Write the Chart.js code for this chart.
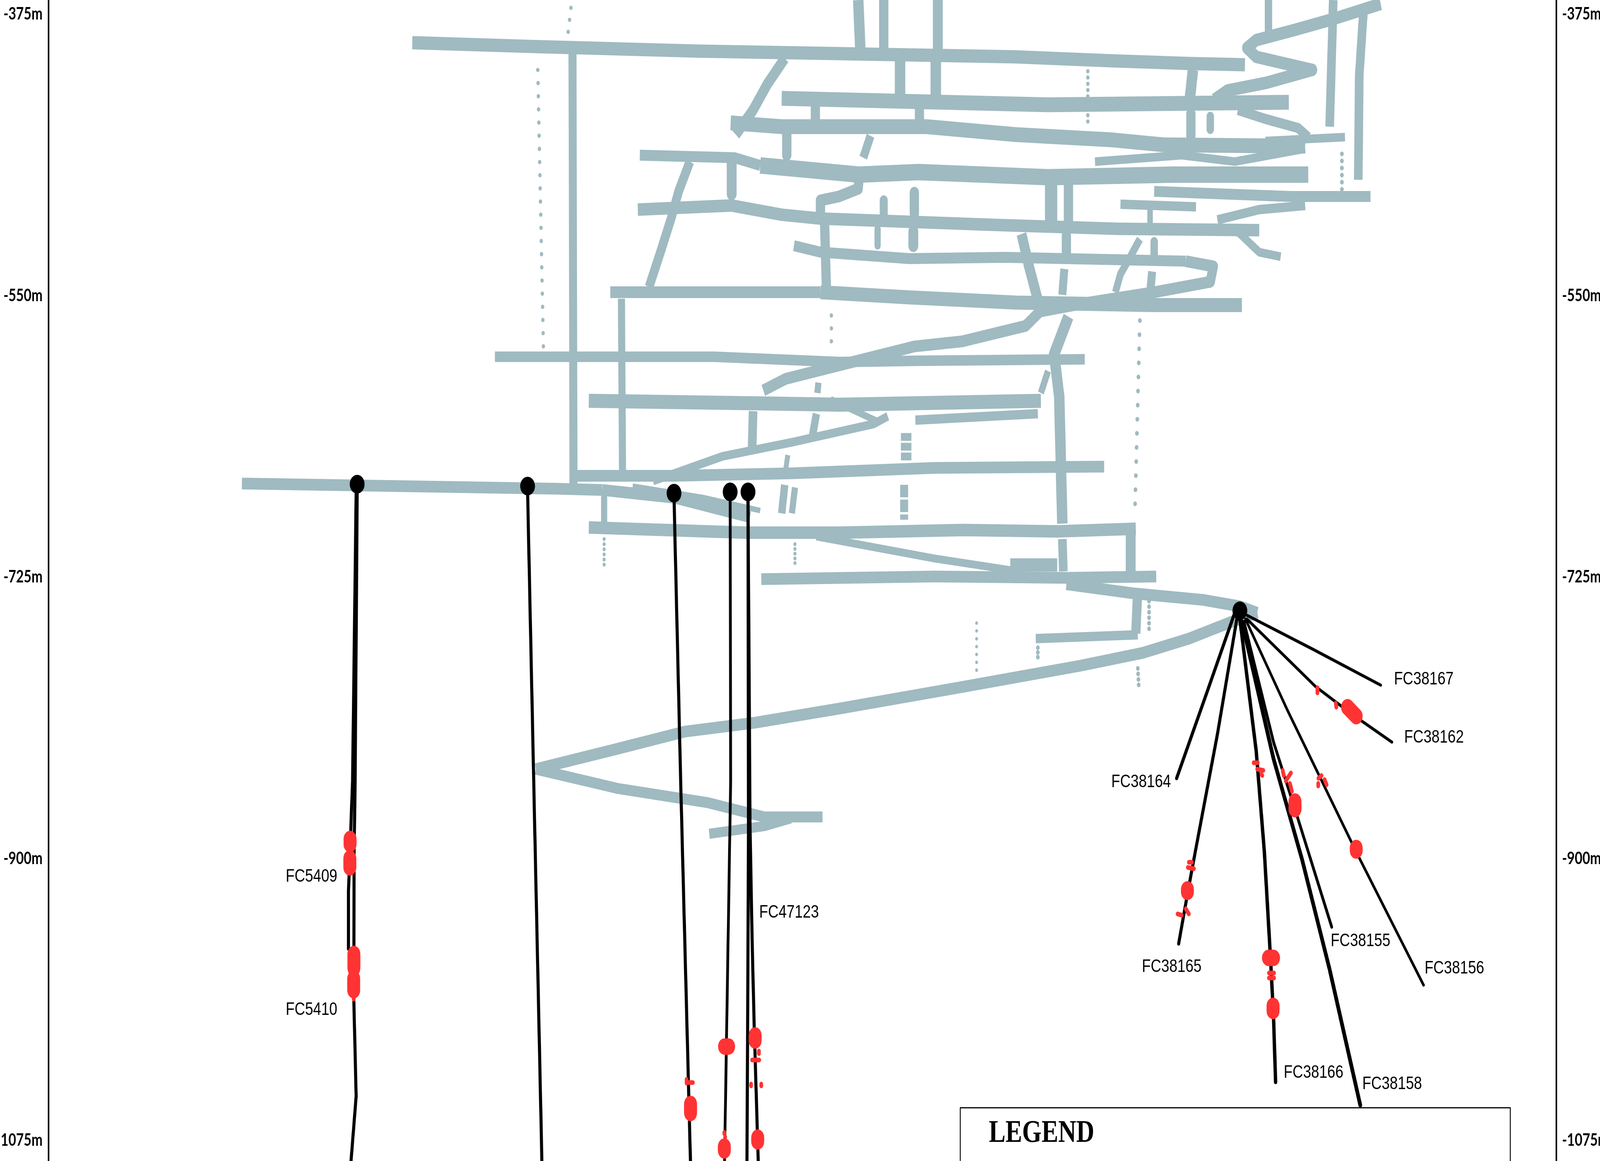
<!DOCTYPE html>
<html lang="en">
<head>
    <meta charset="UTF-8">
    <title>Long section</title>
    <style>
        html, body { margin: 0; padding: 0; background: #fff; overflow: hidden; }
        /* drawing surface stays 5188x2972, fit it to whatever window we really get */
        canvas { display: block; width: 100vw !important; height: 100vh !important; }
    </style>
    <script src="https://cdn.jsdelivr.net/npm/chart.js"></script>
</head>
<body>
    <canvas id="section" width="5188" height="2972"></canvas>
    <script>
        // depth axis
        const depthTicks = [-375, -550, -725, -900, -1075];

        // mine levels: [chainage, depth m]
        const level393 = [[404,-392.8],[525,-395.2],[683,-398],[822,-399.6],[995,-401.6],[1088,-404],[1165,-405.7],[1220,-406.5]];
        const ramp380 = [[1353,-368.7],[1307,-378],[1269,-384.8],[1231,-391.2],[1222,-396],[1231,-401.6],[1286,-409.7],[1241,-417.7],[1203,-422.5],[1190,-428.2]];
        const level428 = [[766,-427.4],[1027,-431.4],[1263,-429.8]];
        const ramp440 = [[1213,-434.6],[1240,-440.2],[1272,-445.8],[1282,-451.5]];
        const level450 = [[716,-442.6],[766,-445],[908,-445],[995,-449.9],[1088,-453.1],[1141,-456.3],[1279,-457.1]];
        const level452East = [[1240,-453.9],[1318,-451.5]];
        const level465West = [[627,-462.7],[720,-464.3],[745,-469.1]];
        const level465East = [[745,-469.1],[842,-474.8],[900,-473.2],[1027,-476.4],[1150,-474.8],[1282,-474.8]];
        const strand466 = [[1073,-466.7],[1158,-462.7],[1210,-466.7],[1279,-458.7]];
        const level495 = [[625,-496.5],[717,-494],[766,-499.7],[804,-502.1],[978,-506.1],[1096,-508.5],[1234,-509.3]];
        const strand493 = [[1098,-493.2],[1172,-494.8]];
        const level487 = [[1131,-485.2],[1265,-488.4],[1343,-488.4]];
        const ramp496 = [[1193,-502.9],[1234,-496.5],[1279,-494]];
        const level527 = [[778,-519],[804,-523],[891,-527],[985,-526.2],[1162,-528.6]];
        const ramp560 = [[1162,-528.6],[1189,-531.8],[1186,-541.4],[1131,-547.9],[1060,-555],[1019,-559.9],[1005,-568.8],[943,-578.4],[896,-581.6],[820,-593.7],[770,-601.7],[748,-608.9]];
        const ramp520 = [[1205,-509.3],[1214,-510.9],[1234,-523],[1255,-525.8]];
        const level555West = [[598,-547.9],[645,-547.9],[804,-547.9]];
        const level555East = [[804,-547.9],[891,-551.1],[995,-554.3],[1131,-555.9],[1217,-555.9]];
        const level590 = [[485,-588],[700,-588],[823,-591.3],[900,-590.5],[1063,-589.6]];
        const level616 = [[577,-615.4],[749,-617],[823,-617.8],[1020,-615.4]];
        const strand620 = [[814,-614.6],[860,-628.2]];
        const strand625 = [[897,-627.4],[1017,-623.4]];
        const ramp640 = [[870,-625],[856,-629.8],[777,-641],[708,-649.9],[640,-665.2]];
        const level660 = [[564,-662],[661,-662],[777,-660.4],[916,-657.1],[1082,-656.3]];
        const level668 = [[237,-666.8],[544,-670],[590,-670.8]];
        const ramp680 = [[590,-670.8],[661,-675.6],[735,-687.7]];
        const strand675 = [[620,-668.4],[690,-675.6],[745,-683.6]];
        const level696 = [[577,-694.1],[731,-697.3],[823,-697.3],[944,-695.7],[1036,-696.5],[1113,-694.9]];
        const ramp710 = [[800,-699.7],[916,-713.4],[990,-720.6]];
        const level725 = [[746,-726.2],[916,-724.6],[1045,-725.4],[1133,-724.6]];
        const block717 = [[990,-717.4],[1036,-717.4]];
        const access740 = [[1045,-729.4],[1110,-735],[1179,-739.1],[1215,-743.1],[1232,-747.1]];
        const level762 = [[1015,-763.2],[1115,-760.8]];
        const decline800 = [[1232,-747.1],[1207,-752.7],[1165,-763.2],[1120,-772],[1059,-780],[939,-793.7],[823,-806.6],[740,-815.4],[671,-821],[601,-832.3],[525,-844.3]];
        const decline860 = [[525,-844.3],[606,-856.4],[694,-865.2],[749,-874],[806,-874]];
        const stub880 = [[695,-884.5],[749,-879.7],[775,-874.9]];

        // shafts and connecting raises
        const shaft560 = [[561,-398.4],[562,-667.6]];
        const shaft609 = [[609,-551.9],[610,-659.5]];
        const top841 = [[841,-366.3],[843,-396]];
        const top866 = [[866,-366.3],[866,-396]];
        const top919 = [[919,-366.3],[919,-398.4]];
        const link882 = [[882,-402.5],[882,-426.6]];
        const link917 = [[917,-404],[917,-426.6]];
        const diag769 = [[769,-402.5],[752,-418.5],[738,-434.6],[721,-449.9]];
        const diag676 = [[676,-466.7],[665,-485.2],[658,-501.3],[648,-521.4],[636,-544.7]];
        const link717 = [[717,-466.7],[717,-486.8]];
        const link771 = [[771,-449.9],[771,-462.7]];
        const link799 = [[799,-433],[799,-442.6]];
        const link901 = [[901,-434.6],[901,-444.2]];
        const link853 = [[853,-450.7],[846,-464.3]];
        const link842 = [[842,-474.8],[841,-483.6],[822,-488.4],[804,-490.8],[804,-501.3]];
        const link896 = [[896,-486],[896,-498.9]];
        const link866 = [[866,-490.8],[866,-499.7]];
        const link1030 = [[1030,-478.8],[1030,-504.5]];
        const link1047 = [[1047,-478.8],[1047,-504.5]];
        const link808 = [[808,-503.7],[810,-549.5]];
        const link895 = [[895,-510.1],[895,-519]];
        const link860 = [[860,-508.5],[860,-519]];
        const link1001 = [[1001,-511.7],[1008,-531],[1017,-552.7]];
        const link1045 = [[1045,-512.5],[1045,-524.6]];
        const link1043 = [[1043,-533.4],[1041,-549.5]];
        const shaft1040 = [[1047,-563.1],[1033,-586.4],[1038,-613],[1041,-691.7]];
        const link1041 = [[1041,-701.3],[1042,-721.4]];
        const link1027 = [[1027,-596.9],[1020,-610.5]];
        const shaft1305 = [[1306.5,-366.3],[1303,-445]];
        const shaft1335 = [[1336,-374.3],[1332,-412.9],[1331,-478]];
        const top1243 = [[1243,-366.3],[1243,-384.8]];
        const link1169 = [[1169,-409.7],[1166,-427.4]];
        const link1167 = [[1167,-437],[1167,-450.7]];
        const link1186 = [[1186,-438.6],[1186,-446.6]];
        const diag1117 = [[1117,-514.9],[1108,-525.4],[1098,-536.6],[1093,-547.9]];
        const link1131 = [[1131,-516.5],[1131,-525.4]];
        const link1129 = [[1129,-535],[1127,-549.5]];
        const link1127 = [[1127,-496.5],[1127,-504.5]];
        const link1108 = [[1108,-695.7],[1108,-721.4]];
        const link1115 = [[1115,-731.8],[1113,-760]];
        const link738 = [[738,-621.8],[737,-645.1]];
        const link769 = [[769,-667.6],[766,-685.3]];
        const link802 = [[802,-604.1],[801,-610.5]];
        const link772 = [[772,-649.1],[770,-658]];
        const link592 = [[592,-675.6],[592,-690.9]];
        const link779 = [[779,-669.2],[776,-685.3]];
        const link800 = [[800,-623.4],[796,-637.9]];
        const chain888 = [[888,-635.4],[888,-653.1]];
        const chain886 = [[886,-667.6],[886,-689.3]];

        // dotted raises
        const raise527 = [[527,-409.7],[532.5,-581.6]];
        const raise559 = [[559.5,-371.1],[556,-390.4]];
        const raise815 = [[814.7,-562.3],[814.7,-586.4]];
        const raise1066 = [[1066,-410.5],[1066,-445]];
        const raise1315 = [[1315,-461.9],[1315,-484.4]];
        const raise1117 = [[1117,-565.5],[1112,-687.7]];
        const raise1126 = [[1126,-739.9],[1126,-757.6]];
        const raise1115 = [[1115,-781.7],[1116,-793.7]];
        const raise592 = [[592,-701.3],[592,-719.8]];
        const raise779 = [[779,-704.5],[779,-717.4]];
        const raise957 = [[957,-753.5],[957,-783.3]];
        const raise1017 = [[1017,-768.8],[1017,-777.6]];

        // drill holes
        const holeFC5409 = [[349,-673.2],[345.5,-851.6],[341.5,-919.9],[341.5,-956]];
        const holeFC5410 = [[350,-673.2],[348,-851.6],[347,-896.5],[346.7,-987.3],[349,-1047.6],[344,-1087.8]];
        const hole517 = [[517,-671.6],[523,-851.6],[531,-1087.8]];
        const hole660 = [[660.5,-675.6],[667,-851.6],[676.6,-1087.8]];
        const hole715 = [[715.5,-675.6],[716,-851.6],[710,-1087.8]];
        const hole733 = [[733,-675.6],[733.5,-880.5],[732,-1087.8]];
        const holeFC47123 = [[733,-675.6],[735,-880.5],[737,-949.6],[739,-1002.6],[743,-1087.8]];
        const holeFC38167 = [[1222,-748.7],[1286,-769.6],[1353,-792.1]];
        const holeFC38162 = [[1222,-751.1],[1289,-792.9],[1324,-809.8],[1364,-827.5]];
        const holeFC38164 = [[1210,-747.1],[1183,-796.1],[1153,-850]];
        const holeFC38165 = [[1212,-751.1],[1193,-822.6],[1172,-893.3],[1164,-920.6],[1155,-952.8]];
        const holeFC38166 = [[1215,-751.1],[1231,-833],[1239,-895.7],[1245,-961.6],[1248,-998.6],[1250,-1038.8]];
        const holeFC38158 = [[1217,-752.7],[1248,-837.9],[1276,-900.6],[1303,-968.9],[1333,-1053.2]];
        const holeFC38155 = [[1219,-752.7],[1248,-827.5],[1269,-869.2],[1305,-942.4]];
        const holeFC38156 = [[1220.5,-751.1],[1262,-808.2],[1329,-895.7],[1395,-978.5]];

        // collars
        const collarX = [350, 517, 660.5, 715.5, 733, 1215];
        const collarDepth = [-667.2, -668.4, -672.8, -672, -672, -745.9];

        // intercepts, big and small
        const bigIntercepts = [
            [[1320.5,-805.8],[1329,-811.4]], [[1329,-893.3],[1329,-894.9]], [[1163.6,-919],[1163.6,-920.6]],
            [[1247.5,-991.4],[1247.5,-994.6]], [[1269,-864.4],[1269,-869.2]],
            [[343,-887.7],[343,-891]], [[342.8,-899.8],[342.8,-905.4]], [[346.8,-959.2],[346.8,-968]], [[346.6,-974.5],[346.6,-981.7]],
            [[710,-1016.7],[714,-1016.7]], [[740,-1009.8],[740,-1013]], [[676.7,-1052.4],[676.7,-1058]],
            [[709.8,-1078.9],[709.8,-1081.3]], [[742.5,-1073.3],[742.5,-1075.7]], [[1243,-961.6],[1248,-961.6]]
        ];
        const smallIntercepts = [
            [[1291,-793.7],[1291,-796.9]], [[1309,-803.3],[1309.5,-805.8]], [[1165,-902.2],[1168,-902.2]], [[1164,-905.4],[1170,-906.2]],
            [[1154,-934.3],[1158,-935.1]], [[1162,-931.1],[1165,-934.3]], [[1243.5,-971],[1248.5,-971]], [[1243.5,-974.1],[1248.5,-974.1]],
            [[1264,-853.2],[1266,-858]], [[1260,-851.6],[1265,-846.7]], [[1257,-845.1],[1258,-848.3]], [[1228.5,-840.3],[1232.5,-840.3]],
            [[1232,-844.3],[1238,-845.1]], [[1236,-847.5],[1237,-848.3]], [[1292,-850],[1295,-848.3]], [[1291.8,-853.2],[1291.8,-854.8]],
            [[1298,-850.8],[1300,-854]], [[346.6,-986.5],[346.6,-987.3]], [[743.7,-1019.5],[743.7,-1021.1]], [[737,-1025.1],[744,-1025.1]],
            [[736,-1040],[736,-1041.2]], [[746,-1040],[746,-1041.2]], [[672.8,-1037.1],[672.8,-1039.5]], [[675,-1039.1],[679,-1039.1]],
            [[675,-1049.2],[679,-1049.2]], [[709.8,-1070.1],[709.8,-1070.9]], [[710.6,-1072.8],[710.6,-1073.3]]
        ];

        // hole labels
        const labelNames = ['FC38167','FC38162','FC38164','FC38165','FC38166','FC38158','FC38155','FC38156','FC47123','FC5409','FC5410'];
        const labelX = [1366, 1376, 1089, 1119, 1258, 1335, 1304, 1396, 744, 280, 280];
        const labelDepth = [-788.5, -824.6, -852.4, -967.3, -1033.1, -1040, -951.2, -968.1, -933.5, -911, -993.8];

        // legend frame, runs off the bottom of the page
        const legendFrame = [[941,-1087.8],[941,-1054.8],[1480,-1054.8],[1480,-1087.8]];

        const GREY = '#9fbac0';
        const RED = '#ff3333';

        function line(points, width, color, order, extra) {
            return Object.assign({
                data: points, showLine: true, pointRadius: 0, borderColor: color, borderWidth: width,
                borderJoinStyle: 'round', order: order, clip: false
            }, extra);
        }
        const drive = (points, width) => line(points, width, GREY, 5);
        const raise = (points, width, gap) => line(points, width, GREY, 5, { borderDash: [0.1, gap], borderCapStyle: 'round' });
        const chain = (points, width, dash) => line(points, width, GREY, 5, { borderDash: dash });
        const hole = (points, width) => line(points, width, 'black', 3, { borderCapStyle: 'round' });
        const blob = (points, width) => line(points, width, RED, 2, { borderCapStyle: 'round' });

        const datasets = [
            drive(level393, 34), drive(ramp380, 32), drive(level428, 38), drive(ramp440, 26), drive(level450, 38), drive(level452East, 22),
            drive(level465West, 28), drive(level465East, 42), drive(strand466, 22), drive(level495, 32), drive(strand493, 24),
            drive(level487, 28), drive(ramp496, 24), drive(level527, 28), drive(ramp560, 30), drive(ramp520, 22),
            drive(level555West, 30), drive(level555East, 36), drive(level590, 27), drive(level616, 36), drive(strand620, 18),
            drive(strand625, 24), drive(ramp640, 22), drive(level660, 30), drive(level668, 30), drive(ramp680, 30), drive(strand675, 14),
            drive(level696, 32), drive(ramp710, 20), drive(level725, 30), drive(block717, 34), drive(access740, 30), drive(level762, 24),
            drive(decline800, 30), drive(decline860, 28), drive(stub880, 26),
            drive(shaft560, 26), drive(shaft609, 23), drive(top841, 34), drive(top866, 30), drive(top919, 32), drive(link882, 34),
            drive(link917, 34), drive(diag769, 30), drive(diag676, 28), drive(link717, 32), drive(link771, 30), drive(link799, 30),
            drive(link901, 30), drive(link853, 26), drive(link842, 30), drive(link896, 30), drive(link866, 26), drive(link1030, 40),
            drive(link1047, 30), drive(link808, 30), drive(link895, 32), drive(link860, 20), drive(link1001, 32), drive(link1045, 30),
            drive(link1043, 26), drive(shaft1040, 34), drive(link1041, 28), drive(link1027, 20), drive(shaft1305, 28), drive(shaft1335, 28),
            drive(top1243, 24), drive(link1169, 34), drive(link1167, 30), drive(link1186, 24), drive(diag1117, 22), drive(link1131, 24),
            drive(link1129, 26), drive(link1127, 18), drive(link1108, 32), drive(link1115, 30), drive(link738, 28), drive(link769, 24),
            drive(link802, 20), drive(link772, 16), drive(link592, 20), drive(link779, 20), drive(link800, 24),
            chain(chain888, 34, [20, 5]), chain(chain886, 26, [32, 6]),
            raise(raise527, 11, 33.6), raise(raise559, 11, 31), raise(raise815, 11, 33), raise(raise1066, 11, 16), raise(raise1315, 12, 18),
            raise(raise1117, 12, 36), raise(raise1126, 12, 14), raise(raise1115, 12, 14), raise(raise592, 10, 13), raise(raise779, 10, 12),
            raise(raise957, 9, 20), raise(raise1017, 12, 12),
            hole(holeFC5409, 10), hole(holeFC5410, 10), hole(hole517, 10), hole(hole660, 10), hole(hole715, 9), hole(hole733, 10),
            hole(holeFC47123, 10), hole(holeFC38167, 8), hole(holeFC38162, 8), hole(holeFC38164, 10), hole(holeFC38165, 10),
            hole(holeFC38166, 11), hole(holeFC38158, 12), hole(holeFC38155, 9), hole(holeFC38156, 8),
            line(legendFrame, 3, 'black', 4),
            {
                data: collarX.map((x, i) => ({ x: x, y: collarDepth[i] })),
                pointRadius: 24, pointBackgroundColor: 'black', pointBorderWidth: 0, order: 1, clip: false
            }
        ];
        bigIntercepts.forEach(b => datasets.push(blob(b, 42)));
        smallIntercepts.forEach(b => datasets.push(blob(b, 12)));

        // section labels, placed through the scales
        const sectionLabels = {
            id: 'sectionLabels',
            afterDatasetsDraw(chart) {
                const ctx = chart.ctx;
                const xs = chart.scales.x;
                const ys = chart.scales.y;
                ctx.save();
                ctx.fillStyle = 'black';
                ctx.textBaseline = 'middle';
                ctx.textAlign = 'left';
                ctx.font = '47px "Liberation Sans"';
                labelNames.forEach((name, i) => {
                    ctx.fillText(name, xs.getPixelForValue(labelX[i]), ys.getPixelForValue(labelDepth[i]));
                });
                ctx.font = 'bold 81px "Liberation Serif"';
                ctx.fillText('LEGEND', xs.getPixelForValue(969), ys.getPixelForValue(-1070.9));
                ctx.restore();
            }
        };

        function depthAxis(position, width) {
            return {
                type: 'linear',
                position: position,
                min: -1087.86,
                max: -366.26,
                grid: { display: false },
                border: { display: true, color: 'black', width: 5 },
                afterBuildTicks(scale) { scale.ticks = depthTicks.map(v => ({ value: v })); },
                afterFit(scale) {
                    scale.width = width;
                    scale.paddingTop = 0;
                    scale.paddingBottom = 0;
                },
                ticks: {
                    padding: 11,
                    color: 'black',
                    autoSkip: false,
                    font: { family: 'Lato', weight: 'bold', size: 43 },
                    callback: v => v + 'm'
                }
            };
        }

        new Chart(document.getElementById('section').getContext('2d'), {
            type: 'scatter',
            data: { datasets: datasets },
            plugins: [sectionLabels],
            options: {
                responsive: false,
                animation: false,
                devicePixelRatio: 1,
                layout: { padding: 0, autoPadding: false },
                plugins: { legend: { display: false }, tooltip: { enabled: false } },
                scales: {
                    x: { type: 'linear', display: false, min: 47.45, max: 1525 },
                    y: depthAxis('left', 157),
                    y2: depthAxis('right', 142)
                }
            }
        });
    </script>
</body>
</html>
